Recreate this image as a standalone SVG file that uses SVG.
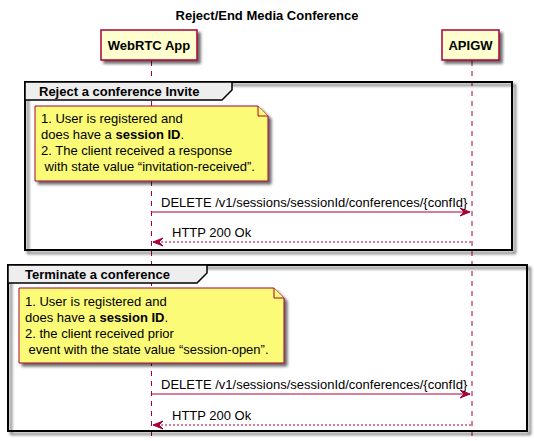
<svg xmlns="http://www.w3.org/2000/svg" width="534" height="441" viewBox="0 0 534 441">
<defs>
<filter id="sh" x="-5%" y="-5%" width="115%" height="125%">
<feGaussianBlur in="SourceAlpha" stdDeviation="1.5"/>
<feOffset dx="3" dy="3" result="b"/>
<feComponentTransfer><feFuncA type="linear" slope="0.6"/></feComponentTransfer>
<feMerge><feMergeNode/><feMergeNode in="SourceGraphic"/></feMerge>
</filter>
</defs>
<style>
text{font-family:"Liberation Sans",Arial,sans-serif;font-size:13px;fill:#000;white-space:pre}
.b{font-weight:bold}
.part{fill:#FEFECE;stroke:#A80036;stroke-width:1.5}
.life{stroke:#A80036;stroke-width:1;stroke-dasharray:5,5;fill:none}
.frame{fill:none;stroke:#000;stroke-width:2}
.tab{fill:#EEEEEE;stroke:#000;stroke-width:1.5}
.note{fill:#FBFB77;stroke:#A80036;stroke-width:1}
.msg{stroke:#A80036;stroke-width:1;fill:none}
.ret{stroke:#A80036;stroke-width:1;fill:none;stroke-dasharray:2,2}
.ah{fill:#A80036;stroke:#A80036;stroke-width:1}
</style>
<rect width="534" height="441" fill="#FFFFFF"/>
<text class="b" x="267" y="20" text-anchor="middle">Reject/End Media Conference</text>

<g id="lifelines">
<line class="life" x1="151.5" y1="61" x2="151.5" y2="441"/>
<line class="life" x1="472" y1="61" x2="472" y2="441"/>
</g>

<g id="participant-webrtc">
<rect class="part" x="101" y="30" width="96" height="30" filter="url(#sh)"/>
<text class="b" x="149" y="50" text-anchor="middle">WebRTC App</text>
</g>
<g id="participant-apigw">
<rect class="part" x="442" y="30" width="57" height="30" filter="url(#sh)"/>
<text class="b" x="470.5" y="50" text-anchor="middle">APIGW</text>
</g>

<g id="group-reject">
<rect class="frame" x="25" y="82" width="487" height="168" filter="url(#sh)"/>
<path class="tab" d="M25,82 H232 V90 L222,100 H25 Z"/>
<text class="b" x="39" y="96">Reject a conference Invite</text>
</g>

<g id="note-reject">
<path class="note" d="M35,106 H258 L268,116 V181 H35 Z" filter="url(#sh)"/>
<path class="note" d="M258,106 V116 H268"/>
<text x="41" y="123">1. User is registered and</text>
<text x="41" y="139">does have a <tspan class="b">session ID</tspan>.</text>
<text x="41" y="155">2. The client received a response</text>
<text x="41" y="171"> with state value “invitation-received”.</text>
</g>

<g id="group-terminate">
<rect class="frame" x="8" y="265" width="519" height="166" filter="url(#sh)"/>
<path class="tab" d="M8,265 H207 V273 L197,283 H8 Z"/>
<text class="b" x="25" y="279">Terminate a conference</text>
</g>

<g id="note-terminate">
<path class="note" d="M19,288 H274 L284,298 V363 H19 Z" filter="url(#sh)"/>
<path class="note" d="M274,288 V298 H284"/>
<text x="25" y="306">1. User is registered and</text>
<text x="25" y="322">does have a <tspan class="b">session ID</tspan>.</text>
<text x="25" y="338">2. the client received prior</text>
<text x="25" y="354"> event with the state value “session-open”.</text>
</g>

<g id="connectors">
<line class="msg" x1="151.5" y1="212" x2="470" y2="212"/>
<polygon class="ah" points="460,208 470,212 460,216 464,212"/>
<text x="161" y="207">DELETE /v1/sessions/sessionId/conferences/{confId}</text>
<line class="ret" x1="153" y1="242" x2="472" y2="242"/>
<polygon class="ah" points="163,238 153,242 163,246 159,242"/>
<text x="172" y="237">HTTP 200 Ok</text>

<line class="msg" x1="151.5" y1="394" x2="470" y2="394"/>
<polygon class="ah" points="460,390 470,394 460,398 464,394"/>
<text x="161" y="389">DELETE /v1/sessions/sessionId/conferences/{confId}</text>
<line class="ret" x1="153" y1="425" x2="472" y2="425"/>
<polygon class="ah" points="163,421 153,425 163,429 159,425"/>
<text x="172" y="420">HTTP 200 Ok</text>
</g>
</svg>
